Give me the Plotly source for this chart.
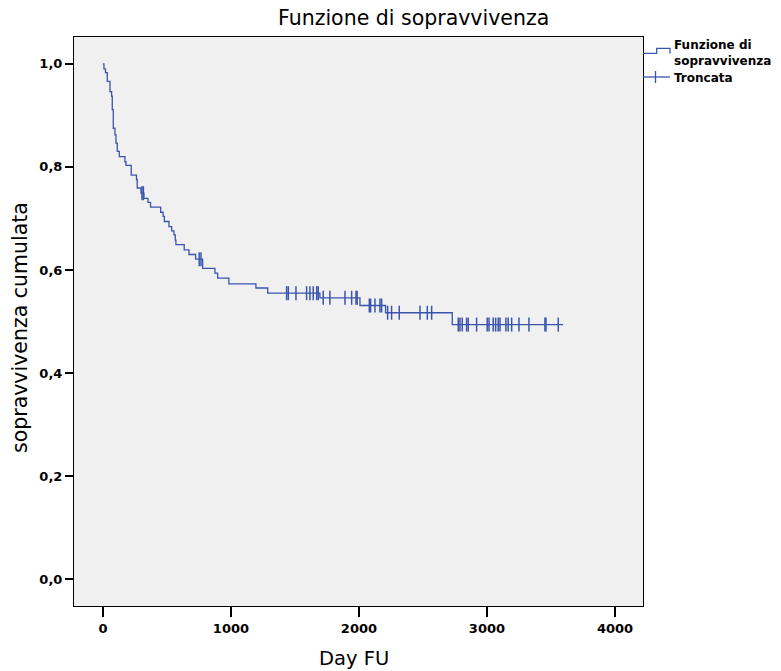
import numpy as np
import plotly.graph_objects as go

# ---- data ----
event_days = [8, 20, 34, 55, 68, 73, 81, 94, 102, 112, 128, 172, 180, 221, 262, 268,
              297, 320, 352, 372, 451, 470, 480, 516, 537, 555, 565, 570, 635, 672,
              724, 779, 875, 896, 984, 1195, 1287, 1695, 2008, 2208, 2729]
survival = [0.990, 0.983, 0.966, 0.946, 0.937, 0.911, 0.875, 0.862, 0.846, 0.830, 0.820,
            0.810, 0.803, 0.784, 0.775, 0.759, 0.749, 0.739, 0.731, 0.722, 0.712, 0.704,
            0.694, 0.684, 0.676, 0.668, 0.658, 0.649, 0.639, 0.630, 0.621, 0.603, 0.594,
            0.584, 0.573, 0.565, 0.555, 0.546, 0.531, 0.517, 0.494]
censored_days = [305, 316, 752, 766, 1435, 1448, 1508, 1591, 1617, 1643, 1670, 1682, 1721,
                 1773, 1891, 1943, 1977, 1986, 2081, 2091, 2125, 2164, 2177, 2224, 2255,
                 2315, 2477, 2534, 2568, 2776, 2789, 2807, 2841, 2854, 2919, 3002, 3016,
                 3049, 3068, 3088, 3102, 3148, 3166, 3193, 3250, 3328, 3453, 3461, 3557]
x_ticks = [0, 1000, 2000, 3000, 4000]
y_ticks = [0.0, 0.2, 0.4, 0.6, 0.8, 1.0]

COLOR = "#3a54ae"

# step curve
last_t = censored_days[-1] + 38
xs = [0] + event_days + [last_t]
ys = [1.0] + survival + [survival[-1]]

ev = np.array(event_days)
sv = np.array(survival)
cens_y = []
for t in censored_days:
    i = np.searchsorted(ev, t, side="right") - 1
    cens_y.append(1.0 if i < 0 else float(sv[i]))

fig = go.Figure()
fig.add_trace(go.Scatter(x=xs, y=ys, mode="lines", line_shape="hv",
                         line=dict(color=COLOR, width=1.3),
                         name="Funzione di sopravvivenza", showlegend=False,
                         hoverinfo="skip"))
fig.add_trace(go.Scatter(x=censored_days, y=cens_y, mode="markers",
                         marker=dict(symbol="line-ns", size=10,
                                     line=dict(color=COLOR, width=1.5)),
                         name="Troncata", showlegend=False))

# plot area in pixels
L, R, T, B = 74, 643, 37, 606
W, H = 781, 671
pw, ph = R - L, B - T


def px(xp):
    return (xp - L) / pw


def py(yp):
    return (B - yp) / ph


tick_font = dict(family="DejaVu Sans", size=13, color="black", weight="bold")

fig.update_layout(
    width=W, height=H,
    margin=dict(l=L, r=W - R, t=T, b=H - B),
    paper_bgcolor="white", plot_bgcolor="#f0f0f0",
    separators=",.",
    xaxis=dict(range=[-226, 4219], tickvals=x_ticks, ticks="outside", ticklen=10,
               tickcolor="black", tickwidth=1.5, showline=True, linecolor="black",
               linewidth=1, mirror=True, showgrid=False, zeroline=False,
               tickfont=tick_font),
    yaxis=dict(range=[-0.052, 1.052], tickvals=y_ticks, tickformat=".1f",
               ticks="outside", ticklen=8, tickcolor="black", tickwidth=1.5,
               showline=True, linecolor="black", linewidth=1, mirror=True,
               showgrid=False, zeroline=False, tickfont=tick_font),
)

ann = [
    dict(text="Funzione di sopravvivenza", x=px(413), y=py(18), xref="paper", yref="paper",
         xanchor="center", yanchor="middle", showarrow=False,
         font=dict(family="DejaVu Sans", size=20.5, color="black")),
    dict(text="sopravvivenza cumulata", x=px(20), y=py(328), xref="paper", yref="paper",
         xanchor="center", yanchor="middle", textangle=-90, showarrow=False,
         font=dict(family="DejaVu Sans", size=20.5, color="black")),
    dict(text="Day FU", x=px(354), y=py(658), xref="paper", yref="paper",
         xanchor="center", yanchor="middle", showarrow=False,
         font=dict(family="DejaVu Sans", size=19.5, color="black")),
    dict(text="Funzione di<br>sopravvivenza", x=px(672), y=py(53), xref="paper",
         yref="paper", xanchor="left", yanchor="middle", align="left", showarrow=False,
         font=dict(family="DejaVu Sans", size=12, color="black", weight="bold")),
    dict(text="Troncata", x=px(672), y=py(77.5), xref="paper", yref="paper",
         xanchor="left", yanchor="middle", align="left", showarrow=False,
         font=dict(family="DejaVu Sans", size=12, color="black", weight="bold")),
]
fig.update_layout(annotations=ann)

step_pts = [(643, 53.3), (656.7, 53.3), (656.7, 48.3), (670, 48.3), (670, 53.5)]
path = "M " + " L ".join(f"{px(a):.5f},{py(b):.5f}" for a, b in step_pts)
shapes = [
    dict(type="path", path=path, xref="paper", yref="paper",
         line=dict(color=COLOR, width=1.3)),
    dict(type="line", x0=px(643), x1=px(670), y0=py(77), y1=py(77), xref="paper",
         yref="paper", line=dict(color=COLOR, width=1.3)),
    dict(type="line", x0=px(655.5), x1=px(655.5), y0=py(71), y1=py(83), xref="paper",
         yref="paper", line=dict(color=COLOR, width=1.3)),
]
fig.update_layout(shapes=shapes)

fig.write_html("out.html")
